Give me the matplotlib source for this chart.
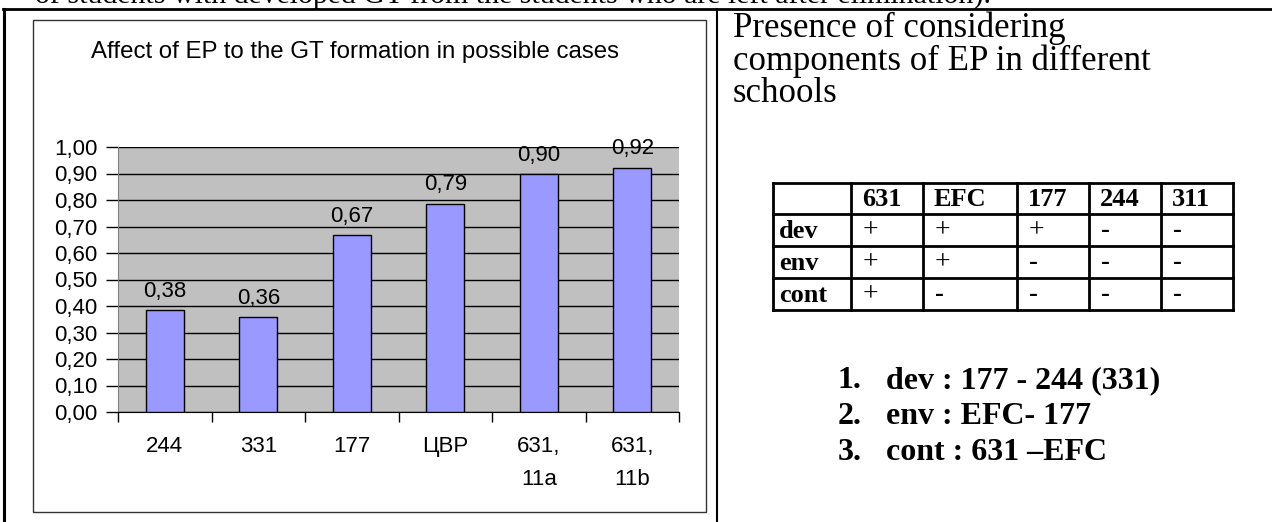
import matplotlib
matplotlib.use("Agg")
import matplotlib.pyplot as plt
from matplotlib.patches import Rectangle
from matplotlib.ticker import FuncFormatter, FixedLocator

# bar chart data
schools = ["244", "331", "177", "ЦВР", "631,\n11a", "631,\n11b"]
affect = [0.384, 0.357, 0.668, 0.786, 0.898, 0.922]
chart_title = "Affect of EP to the GT formation in possible cases"

# table data
tab_cols = ["631", "EFC", "177", "244", "311"]
tab_rows = ["dev", "env", "cont"]
tab_cells = [["+", "+", "+", "-", "-"],
             ["+", "+", "-", "-", "-"],
             ["+", "-", "-", "-", "-"]]
heading = ["Presence of considering", "components of EP in different", "schools"]
notes = ["dev : 177 - 244 (331)", "env : EFC- 177", "cont : 631 \u2013EFC"]
top_line = "of students with developed GT from the students who are left after elimination)."

W, H = 1272, 522
fig = plt.figure(figsize=(W / 100, H / 100), dpi=100)

# overlay in pixel coordinates for the page elements
ov = fig.add_axes([0, 0, 1, 1], zorder=0)
ov.set_xlim(0, W)
ov.set_ylim(H, 0)
ov.axis("off")

serif = "Liberation Serif"
sans = "Liberation Sans"

ov.text(35, -4, top_line, family=serif, fontsize=21.5, ha="left", va="center")
ov.plot([3, W], [9, 9], color="black", lw=2)
ov.plot([4, 4], [9, H], color="black", lw=2.2)
ov.plot([717, 717], [9, H], color="black", lw=1.5)

# chart area frame
ov.add_patch(Rectangle((33, 20), 673, 492, facecolor="white", edgecolor="#333333", lw=1))
ov.text(355, 52, chart_title, family=sans, fontsize=17.3, ha="center", va="center")

# bar chart
left, right, top, bottom = 118, 679, 147, 412
ax = fig.add_axes([left / W, (H - bottom) / H, (right - left) / W, (bottom - top) / H], zorder=1)
ax.set_facecolor("#c0c0c0")
xs = range(len(schools))
bars = ax.bar(xs, affect, width=0.41, color="#9999ff", edgecolor="black", lw=1, zorder=3)
for x, v in zip(xs, affect):
    ax.annotate(f"{v:.2f}".replace(".", ","), (x, v), xytext=(0, 6), textcoords="offset points",
                ha="center", va="bottom", family=sans, fontsize=16)
ax.set_xlim(-0.5, 5.5)
ax.set_ylim(0, 1.0)
ax.yaxis.set_major_locator(FixedLocator([i / 10 for i in range(11)]))
ax.yaxis.set_major_formatter(FuncFormatter(lambda v, p: f"{v:.2f}".replace(".", ",")))
ax.grid(axis="y", color="black", lw=1, zorder=1)
ax.set_xticks(list(xs))
ax.set_xticklabels(schools, family=sans, fontsize=16, linespacing=1.8)
ax.tick_params(axis="x", length=0, pad=17)
ax.set_xticks([i - 0.5 for i in range(len(schools) + 1)], minor=True)
ax.tick_params(axis="x", which="minor", length=7, width=1, direction="out")
ax.tick_params(axis="y", length=9, width=1, pad=6, labelsize=16)
for lab in ax.get_yticklabels():
    lab.set_family(sans)
for s in ["top", "right"]:
    ax.spines[s].set_visible(False)
ax.spines["left"].set_color("#808080")
ax.spines["bottom"].set_color("black")

# right panel
for k, line in enumerate(heading):
    ov.text(733, 28 + k * 33, line, family=serif, fontsize=25, ha="left", va="center")

col_x = [773, 851, 923, 1017, 1089, 1161, 1233]
row_y = [183, 214, 246, 278, 310]
for x in col_x:
    ov.plot([x, x], [row_y[0], row_y[-1]], color="black", lw=2)
for y in row_y:
    ov.plot([col_x[0], col_x[-1]], [y, y], color="black", lw=2)
for j, c in enumerate(tab_cols):
    ov.text(col_x[j + 1] + 11, (row_y[0] + row_y[1]) / 2 + 1, c, family=serif, fontsize=19,
            weight="bold", ha="left", va="center")
for i, r in enumerate(tab_rows):
    yc = (row_y[i + 1] + row_y[i + 2]) / 2 + 1
    ov.text(col_x[0] + 6, yc, r, family=serif, fontsize=19, weight="bold", ha="left", va="center")
    for j, c in enumerate(tab_cells[i]):
        ov.text(col_x[j + 1] + 12, yc, c, family=serif, fontsize=20 if c == "+" else 19,
                weight="bold" if c == "-" else "normal", ha="left", va="center")

for k, n in enumerate(notes):
    yc = 381 + k * 36
    ov.text(838, yc, f"{k + 1}.", family=serif, fontsize=23, weight="bold", ha="left", va="center")
    ov.text(886, yc, n, family=serif, fontsize=23, weight="bold", ha="left", va="center")

fig.savefig("out.png", dpi=100)
